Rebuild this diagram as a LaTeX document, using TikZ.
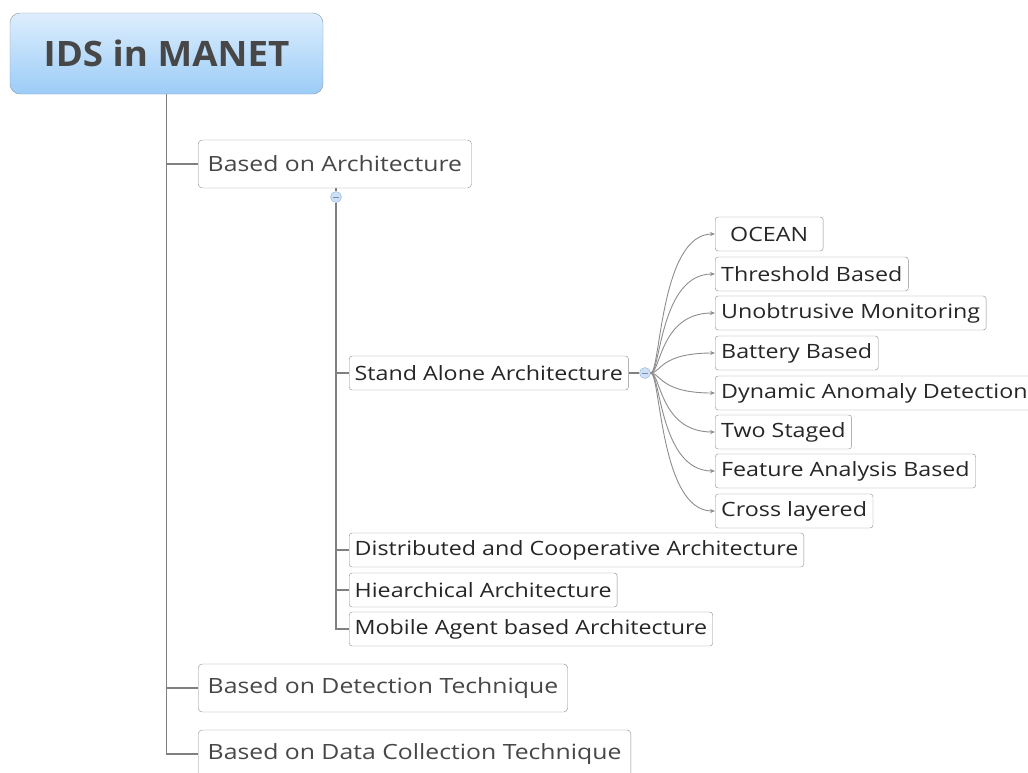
\documentclass[tikz,border=0pt]{standalone}
\usepackage{fontspec}
\setmainfont{Open Sans}[FakeStretch=1.18]
\newfontfamily\rootfont{Open Sans}[FakeStretch=1.05]
\usetikzlibrary{arrows.meta}

\definecolor{linegray}{HTML}{808080}
\definecolor{boxgray}{HTML}{8C8C8C}
\definecolor{rootedge}{HTML}{8A98A8}
\definecolor{roottop}{HTML}{DDEEFD}
\definecolor{rootbot}{HTML}{9CCCF7}
\definecolor{dotfill}{HTML}{CFE0F6}
\definecolor{dotedge}{HTML}{8FB0DC}

\tikzset{
  >={Stealth[length=5pt,width=4pt]},
  root/.style={draw=rootedge, rounded corners=10pt, top color=roottop, bottom color=rootbot,
    minimum width=313pt, minimum height=81pt, text=black!72,
    font=\rootfont\fontsize{35}{40}\selectfont\bfseries},
  branch/.style={draw=boxgray, rounded corners=4pt, anchor=west, minimum height=48pt,
    inner xsep=9.5pt, text=black!72, font=\fontsize{21}{24}\selectfont},
  kind/.style={draw=boxgray, rounded corners=3pt, anchor=west, minimum height=34pt,
    inner xsep=5.5pt, text=black!85, font=\fontsize{19.7}{24}\selectfont},
  leaf/.style={kind, inner xsep=6pt},
  fold/.style={circle, draw=dotedge, fill=dotfill, minimum size=11pt, inner sep=0pt,
    path picture={\draw[dotedge!80!black] ([xshift=-3pt]path picture bounding box.center)
      -- ([xshift=3pt]path picture bounding box.center);}},
  tree/.style={draw=linegray, line width=1.1pt},
  link/.style={draw=linegray!90, line width=0.9pt, ->}
}

\begin{document}
\begin{tikzpicture}[x=1pt, y=-1pt]
  \useasboundingbox (0,0) rectangle (1028,772);
  \clip (0,0) rectangle (1028,772);

  % top level
  \node[root] (root) at (166.5,53.5) {IDS in MANET};
  \node[branch] (arch) at (198,164) {Based on Architecture};
  \node[branch] (detect) at (198,688) {Based on Detection Technique};
  \node[branch] (collect) at (198,754) {Based on Data Collection Technique};
  \foreach \b in {arch,detect,collect}
    \draw[tree] (root.south) |- (\b.west);

  % architectures
  \node[fold] (archdot) at (336,197) {};
  \draw[tree] (arch.south -| archdot) -- (archdot.north);
  \node[kind] (alone) at (349,373) {Stand Alone Architecture};
  \node[kind] (distrib) at (349,550) {Distributed and Cooperative Architecture};
  \node[kind] (hier) at (349,590) {Hiearchical Architecture};
  \node[kind] (mobile) at (349,629) {Mobile Agent based Architecture};
  \foreach \k in {alone,distrib,hier,mobile}
    \draw[tree] (archdot.south) |- (\k.west);

  % stand alone variants
  \node[fold] (alonedot) at (645,373) {};
  \draw[tree] (alone.east) -- (alonedot.west);
  \foreach \name/\txt/\ypos in {ocean/\kern9pt OCEAN\kern9pt/234, thresh/Threshold Based/274,
      unobtr/Unobtrusive Monitoring/313, battery/Battery Based/353,
      anomaly/Dynamic Anomaly Detection/393, twostage/Two Staged/432,
      feature/Feature Analysis Based/471, cross/Cross layered/511} {
    \node[leaf] (\name) at (715,\ypos) {\txt};
    \draw[link] (alonedot.east) .. controls +(10,0) and +(-55,0) .. (\name.west);
  }
\end{tikzpicture}
\end{document}
